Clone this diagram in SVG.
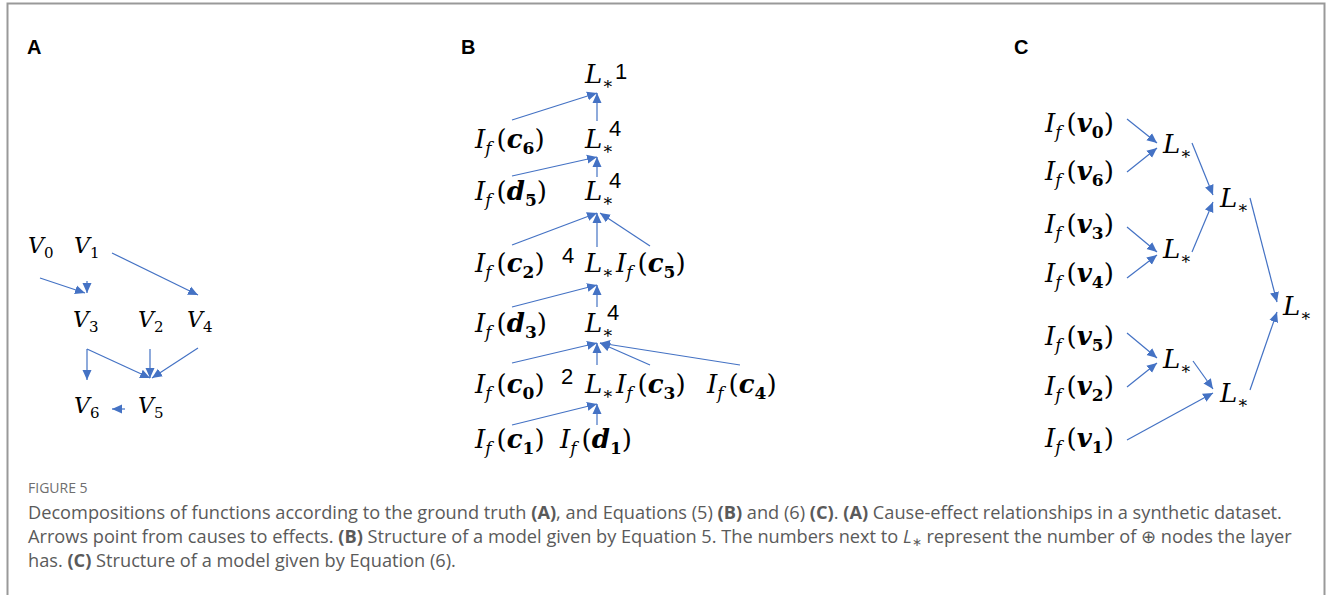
<svg xmlns="http://www.w3.org/2000/svg" width="1330" height="595" viewBox="0 0 1330 595">
<style>
.m{font-family:"DejaVu Serif","Liberation Serif",serif;font-size:26px;fill:#000}
.ma{font-family:"DejaVu Serif","Liberation Serif",serif;font-size:22px;fill:#000}
.i{font-style:italic}
.b{font-weight:bold;font-style:italic}
.bn{font-weight:bold}
.s{font-size:17px}
.st{font-size:15px}
.n{font-family:"Liberation Sans",Arial,sans-serif;font-size:22px;fill:#000}
.lab{font-family:"Liberation Sans",Arial,sans-serif;font-size:20px;font-weight:bold;fill:#000}
.cap{font-family:"Open Sans","Liberation Sans",sans-serif;font-size:18.2px;fill:#5a5a5a}
.fig{font-family:"Open Sans","Liberation Sans",sans-serif;font-size:14px;fill:#6e6e6e}
.e{stroke:#4472C4;stroke-width:1.2;fill:none;marker-end:url(#ah)}
</style>
<defs>
<marker id="ah" markerUnits="userSpaceOnUse" markerWidth="11" markerHeight="10" refX="10" refY="4.5" orient="auto" viewBox="0 0 11 9">
<path d="M0,0 L10,4.5 L0,9 z" fill="#4472C4"/>
</marker>
</defs>
<rect x="7.5" y="3.5" width="1317" height="640" fill="#fff" stroke="#999" stroke-width="2"/>

<text class="lab" x="27" y="54">A</text>
<text class="lab" x="461" y="54">B</text>
<text class="lab" x="1014" y="54">C</text>

<!-- Panel A -->
<g id="A-V0"><text class="ma" x="28" y="253"><tspan class="i">V</tspan><tspan class="st" dy="5">0</tspan></text></g>
<g id="A-V1"><text class="ma" x="74" y="253"><tspan class="i">V</tspan><tspan class="st" dy="5">1</tspan></text></g>
<g id="A-V3"><text class="ma" x="73" y="327"><tspan class="i">V</tspan><tspan class="st" dy="5">3</tspan></text></g>
<g id="A-V2"><text class="ma" x="138" y="327"><tspan class="i">V</tspan><tspan class="st" dy="5">2</tspan></text></g>
<g id="A-V4"><text class="ma" x="187" y="327"><tspan class="i">V</tspan><tspan class="st" dy="5">4</tspan></text></g>
<g id="A-V6"><text class="ma" x="74" y="413"><tspan class="i">V</tspan><tspan class="st" dy="5">6</tspan></text></g>
<g id="A-V5"><text class="ma" x="138" y="413"><tspan class="i">V</tspan><tspan class="st" dy="5">5</tspan></text></g>

<!-- Panel B -->
<g id="B-L1"><text class="m" x="585" y="83"><tspan class="i">L</tspan><tspan class="s" dy="6">∗</tspan></text><text class="n" x="615" y="79">1</text></g>
<g id="B-c6"><text class="m" x="475" y="148"><tspan class="i">I</tspan><tspan class="s i" dy="6">f</tspan><tspan dy="-6" dx="5">(</tspan><tspan class="b">c</tspan><tspan class="s bn" dy="6">6</tspan><tspan dy="-6">)</tspan></text></g>
<g id="B-L2"><text class="m" x="585" y="148"><tspan class="i">L</tspan><tspan class="s" dy="6">∗</tspan></text><text class="n" x="609" y="136">4</text></g>
<g id="B-d5"><text class="m" x="475" y="200"><tspan class="i">I</tspan><tspan class="s i" dy="6">f</tspan><tspan dy="-6" dx="5">(</tspan><tspan class="b">d</tspan><tspan class="s bn" dy="6">5</tspan><tspan dy="-6">)</tspan></text></g>
<g id="B-L3"><text class="m" x="585" y="200"><tspan class="i">L</tspan><tspan class="s" dy="6">∗</tspan></text><text class="n" x="609" y="188">4</text></g>
<g id="B-c2"><text class="m" x="475" y="272"><tspan class="i">I</tspan><tspan class="s i" dy="6">f</tspan><tspan dy="-6" dx="5">(</tspan><tspan class="b">c</tspan><tspan class="s bn" dy="6">2</tspan><tspan dy="-6">)</tspan></text></g>
<g id="B-L4"><text class="n" x="562" y="263">4</text><text class="m" x="585" y="272"><tspan class="i">L</tspan><tspan class="s" dy="6">∗</tspan></text></g>
<g id="B-c5"><text class="m" x="616" y="272"><tspan class="i">I</tspan><tspan class="s i" dy="6">f</tspan><tspan dy="-6" dx="5">(</tspan><tspan class="b">c</tspan><tspan class="s bn" dy="6">5</tspan><tspan dy="-6">)</tspan></text></g>
<g id="B-d3"><text class="m" x="475" y="332"><tspan class="i">I</tspan><tspan class="s i" dy="6">f</tspan><tspan dy="-6" dx="5">(</tspan><tspan class="b">d</tspan><tspan class="s bn" dy="6">3</tspan><tspan dy="-6">)</tspan></text></g>
<g id="B-L5"><text class="m" x="585" y="332"><tspan class="i">L</tspan><tspan class="s" dy="6">∗</tspan></text><text class="n" x="607" y="320">4</text></g>
<g id="B-c0"><text class="m" x="475" y="393"><tspan class="i">I</tspan><tspan class="s i" dy="6">f</tspan><tspan dy="-6" dx="5">(</tspan><tspan class="b">c</tspan><tspan class="s bn" dy="6">0</tspan><tspan dy="-6">)</tspan></text></g>
<g id="B-L6"><text class="n" x="561" y="384">2</text><text class="m" x="585" y="393"><tspan class="i">L</tspan><tspan class="s" dy="6">∗</tspan></text></g>
<g id="B-c3"><text class="m" x="616" y="393"><tspan class="i">I</tspan><tspan class="s i" dy="6">f</tspan><tspan dy="-6" dx="5">(</tspan><tspan class="b">c</tspan><tspan class="s bn" dy="6">3</tspan><tspan dy="-6">)</tspan></text></g>
<g id="B-c4"><text class="m" x="707" y="393"><tspan class="i">I</tspan><tspan class="s i" dy="6">f</tspan><tspan dy="-6" dx="5">(</tspan><tspan class="b">c</tspan><tspan class="s bn" dy="6">4</tspan><tspan dy="-6">)</tspan></text></g>
<g id="B-c1"><text class="m" x="475" y="448"><tspan class="i">I</tspan><tspan class="s i" dy="6">f</tspan><tspan dy="-6" dx="5">(</tspan><tspan class="b">c</tspan><tspan class="s bn" dy="6">1</tspan><tspan dy="-6">)</tspan></text></g>
<g id="B-d1"><text class="m" x="560" y="448"><tspan class="i">I</tspan><tspan class="s i" dy="6">f</tspan><tspan dy="-6" dx="5">(</tspan><tspan class="b">d</tspan><tspan class="s bn" dy="6">1</tspan><tspan dy="-6">)</tspan></text></g>

<!-- Panel C -->
<g id="C-v0"><text class="m" x="1045" y="132"><tspan class="i">I</tspan><tspan class="s i" dy="6">f</tspan><tspan dy="-6" dx="5">(</tspan><tspan class="b">v</tspan><tspan class="s bn" dy="6">0</tspan><tspan dy="-6">)</tspan></text></g>
<g id="C-v6"><text class="m" x="1045" y="180"><tspan class="i">I</tspan><tspan class="s i" dy="6">f</tspan><tspan dy="-6" dx="5">(</tspan><tspan class="b">v</tspan><tspan class="s bn" dy="6">6</tspan><tspan dy="-6">)</tspan></text></g>
<g id="C-v3"><text class="m" x="1045" y="233"><tspan class="i">I</tspan><tspan class="s i" dy="6">f</tspan><tspan dy="-6" dx="5">(</tspan><tspan class="b">v</tspan><tspan class="s bn" dy="6">3</tspan><tspan dy="-6">)</tspan></text></g>
<g id="C-v4"><text class="m" x="1045" y="282"><tspan class="i">I</tspan><tspan class="s i" dy="6">f</tspan><tspan dy="-6" dx="5">(</tspan><tspan class="b">v</tspan><tspan class="s bn" dy="6">4</tspan><tspan dy="-6">)</tspan></text></g>
<g id="C-v5"><text class="m" x="1045" y="345"><tspan class="i">I</tspan><tspan class="s i" dy="6">f</tspan><tspan dy="-6" dx="5">(</tspan><tspan class="b">v</tspan><tspan class="s bn" dy="6">5</tspan><tspan dy="-6">)</tspan></text></g>
<g id="C-v2"><text class="m" x="1045" y="395"><tspan class="i">I</tspan><tspan class="s i" dy="6">f</tspan><tspan dy="-6" dx="5">(</tspan><tspan class="b">v</tspan><tspan class="s bn" dy="6">2</tspan><tspan dy="-6">)</tspan></text></g>
<g id="C-v1"><text class="m" x="1045" y="447"><tspan class="i">I</tspan><tspan class="s i" dy="6">f</tspan><tspan dy="-6" dx="5">(</tspan><tspan class="b">v</tspan><tspan class="s bn" dy="6">1</tspan><tspan dy="-6">)</tspan></text></g>
<g id="C-L1"><text class="m" x="1163" y="153"><tspan class="i">L</tspan><tspan class="s" dy="6">∗</tspan></text></g>
<g id="C-L2"><text class="m" x="1163" y="258"><tspan class="i">L</tspan><tspan class="s" dy="6">∗</tspan></text></g>
<g id="C-L3"><text class="m" x="1163" y="368"><tspan class="i">L</tspan><tspan class="s" dy="6">∗</tspan></text></g>
<g id="C-L4"><text class="m" x="1220" y="207"><tspan class="i">L</tspan><tspan class="s" dy="6">∗</tspan></text></g>
<g id="C-L5"><text class="m" x="1220" y="402"><tspan class="i">L</tspan><tspan class="s" dy="6">∗</tspan></text></g>
<g id="C-L6"><text class="m" x="1283" y="315"><tspan class="i">L</tspan><tspan class="s" dy="6">∗</tspan></text></g>

<g id="connectors">
<path class="e" d="M40,278 L85,293"/>
<path class="e" d="M87,281 L87,293"/>
<path class="e" d="M112,253 L198,295"/>
<path class="e" d="M87,349 L87,380"/>
<path class="e" d="M87,349 L150,378"/>
<path class="e" d="M150,349 L150,378"/>
<path class="e" d="M198,348 L152,378"/>
<path class="e" d="M125,409 L112,409"/>

<path class="e" d="M512,120 L597,93"/>
<path class="e" d="M597,121 L597,93"/>
<path class="e" d="M512,176 L597,157"/>
<path class="e" d="M597,177 L597,157"/>
<path class="e" d="M512,245 L597,213"/>
<path class="e" d="M597,247 L597,213"/>
<path class="e" d="M650,246 L600,213"/>
<path class="e" d="M512,307 L597,285"/>
<path class="e" d="M597,307 L597,285"/>
<path class="e" d="M512,363 L597,343"/>
<path class="e" d="M597,365 L597,343"/>
<path class="e" d="M650,365 L600,343"/>
<path class="e" d="M740,365 L600,343"/>
<path class="e" d="M512,425 L597,404"/>
<path class="e" d="M597,425 L597,404"/>

<path class="e" d="M1127,119 L1157,143"/>
<path class="e" d="M1127,172 L1157,148"/>
<path class="e" d="M1127,227 L1157,252"/>
<path class="e" d="M1127,278 L1157,255"/>
<path class="e" d="M1192,143 L1213,195"/>
<path class="e" d="M1192,252 L1213,202"/>
<path class="e" d="M1250,198 L1277,302"/>
<path class="e" d="M1250,390 L1277,312"/>
<path class="e" d="M1127,333 L1157,358"/>
<path class="e" d="M1127,387 L1157,363"/>
<path class="e" d="M1193,361 L1213,389"/>
<path class="e" d="M1127,440 L1213,393"/>
</g>

<text class="fig" x="28" y="493">FIGURE 5</text>
<text class="cap" x="28" y="519">Decompositions of functions according to the ground truth <tspan font-weight="bold">(A)</tspan>, and Equations (5) <tspan font-weight="bold">(B)</tspan> and (6) <tspan font-weight="bold">(C)</tspan>. <tspan font-weight="bold">(A)</tspan> Cause-effect relationships in a synthetic dataset.</text>
<text class="cap" x="28" y="543">Arrows point from causes to effects. <tspan font-weight="bold">(B)</tspan> Structure of a model given by Equation 5. The numbers next to <tspan font-style="italic">L</tspan><tspan font-size="12px" dy="3">∗</tspan><tspan dy="-3"> represent the number of ⊕ nodes the layer</tspan></text>
<text class="cap" x="28" y="567">has. <tspan font-weight="bold">(C)</tspan> Structure of a model given by Equation (6).</text>
</svg>
